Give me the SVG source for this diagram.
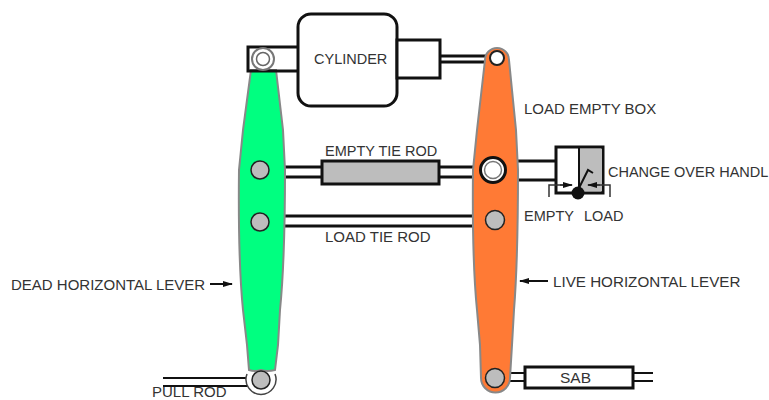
<svg xmlns="http://www.w3.org/2000/svg" width="769" height="400" viewBox="0 0 769 400">
<style>
text{font-family:"Liberation Sans",Arial,sans-serif;font-size:15px;fill:#333}
.s{font-size:14.5px}
.rod{fill:none;stroke:#111;stroke-width:3}
.thin{fill:none;stroke:#111;stroke-width:2}
.fine{fill:none;stroke:#333;stroke-width:1.500}
.box{fill:#fff;stroke:#111;stroke-width:3}
.lever{stroke:#888;stroke-width:2}
.pin{fill:#bdbdbd;stroke:#222;stroke-width:1.500}
</style>
<defs>
<marker id="a" markerWidth="10" markerHeight="6" refX="9" refY="3" orient="auto" markerUnits="userSpaceOnUse"><path d="M0 0L10 3L0 6Z" fill="#111"/></marker>
</defs>
<g id="connectors">
<path class="rod" d="M285 167H322M285 177H322M439 167H476M439 177H476M285 216H476M285 226H476"/>
<path class="rod" d="M440 56H488M440 62H488"/>
<path class="thin" d="M163 378H248M163 386H248"/>
<path class="thin" d="M509 373H525M509 381H525M633 373H653M633 381H653"/>
<path class="rod" d="M505 161H556M505 180H556"/>
<path class="thin" d="M210 284H232" marker-end="url(#a)"/>
<path class="thin" d="M548 281H520" marker-end="url(#a)"/>
</g>
<g id="dead-lever">
<path d="M247 374A15 15 0 1 0 275 374L261 366Z" fill="#fff"/>
<path class="lever" fill="#00ff80" d="M251 70L243 130L239 170Q238 260 243 310L247 345L249 370Q255 372 261 370Q267 372 275 370L278 345L280 310Q285 260 285 170L283 130L276 70Z"/>
<path d="M247 374A15 15 0 1 0 275 374" fill="none" stroke="#444" stroke-width="1.500"/>
<circle class="pin" cx="261" cy="380" r="9"/>
<circle class="pin" cx="260" cy="170" r="9"/>
<circle class="pin" cx="260" cy="222" r="9"/>
</g>
<g id="live-lever">
<path class="lever" fill="#ff7a35" d="M485 60L477 130L473 170Q472 260 477 310L480 345L481 378A14.500 14.500 0 0 0 510 378L512 345L514 310Q518 260 518 170L516 130L509 60A12 12 0 0 0 485 60Z"/>
<circle cx="497" cy="58" r="7" fill="#fff" stroke="#222" stroke-width="2"/>
<circle class="pin" cx="495" cy="220" r="9.500"/>
<circle class="pin" cx="495" cy="378" r="9.500"/>
</g>
<g id="empty-tie-rod">
<rect x="322" y="161" width="117" height="23" fill="#bdbdbd" stroke="#111" stroke-width="3"/>
<text class="s" x="325" y="156">EMPTY TIE ROD</text>
</g>
<text id="load-tie-rod" x="325" y="242">LOAD TIE ROD</text>
<g id="cylinder">
<path class="rod" d="M298 47H248V71H298"/>
<rect x="298" y="14" width="99" height="92" rx="13" class="box"/>
<rect x="397" y="40" width="43" height="38" class="box"/>
<circle cx="263" cy="59" r="11" fill="#fff" stroke="#777" stroke-width="2"/>
<circle cx="263" cy="59" r="6.500" fill="#fff" stroke="#666" stroke-width="1.500"/>
<text class="s" x="314" y="64">CYLINDER</text>
</g>
<g id="load-empty-box">
<circle cx="493" cy="170" r="12.500" fill="#fff" stroke="#111" stroke-width="3"/>
<circle cx="493" cy="170" r="8.500" fill="#fff" stroke="#777" stroke-width="1.500"/>
<rect x="556" y="147" width="47" height="46" fill="#fff" stroke="#111" stroke-width="3"/>
<rect x="580" y="149" width="22" height="42" fill="#bdbdbd"/>
<path class="thin" d="M579 147V193"/>
<path class="fine" d="M549 197V185H572M610 197V185H588"/>
<path class="thin" d="M578 190L588 170L593 173"/>
<path class="fine" d="M560 185H572" marker-end="url(#a)"/>
<path class="fine" d="M600 185H588" marker-end="url(#a)"/>
<circle cx="578" cy="193" r="6.500" fill="#111"/>
<text x="524" y="114">LOAD EMPTY BOX</text>
<text class="s" x="608" y="177">CHANGE OVER HANDL</text>
<text class="s" x="524" y="221">EMPTY</text>
<text class="s" x="584" y="221">LOAD</text>
</g>
<g id="sab">
<rect x="525" y="367" width="108" height="21" class="box"/>
<text x="560" y="383" style="font-size:15.5px">SAB</text>
</g>
<text id="dead-label" x="11" y="290">DEAD HORIZONTAL LEVER</text>
<text id="live-label" x="553" y="287" style="font-size:15.200px">LIVE HORIZONTAL LEVER</text>
<text id="pull-label" x="152" y="397">PULL ROD</text>
</svg>
